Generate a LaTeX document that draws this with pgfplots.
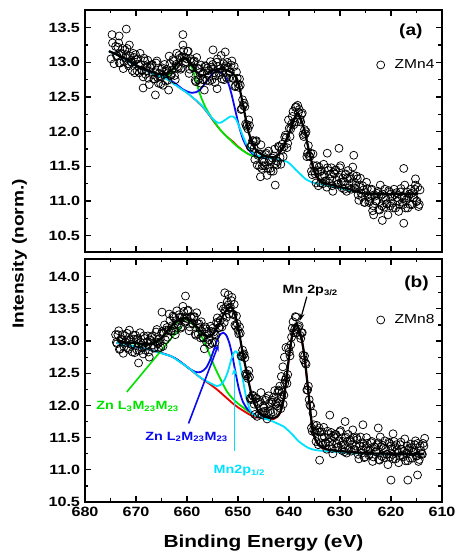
\documentclass[border=0pt]{standalone}
\usepackage{fontspec}
\setmainfont{Liberation Sans}[FakeStretch=1.2]
\usepackage{pgfplots}
\pgfplotsset{compat=1.18}
\usetikzlibrary{arrows.meta}
\definecolor{cgreen}{RGB}{0,225,0}
\definecolor{cblue}{RGB}{10,10,240}
\definecolor{ccyan}{RGB}{0,225,255}
\definecolor{cred}{RGB}{235,0,0}
\newcommand{\tickfont}{\bfseries\fontsize{13.5}{13.5}\selectfont}
\pgfplotsset{myax/.style={
  scale only axis, width=357bp,
  xmin=610, xmax=680, x dir=reverse,
  xtick={610,620,630,640,650,660,670,680},
  minor x tick num=1, minor y tick num=1,
  tick align=inside, xtick pos=both, ytick pos=both,
  major tick length=6bp, minor tick length=3.5bp,
  axis line style={line width=1.5bp},
  tick style={line width=1.2bp, black},
  tick label style={font=\tickfont},
  /pgf/number format/assume math mode=true,
  yticklabel style={/pgf/number format/fixed,/pgf/number format/fixed zerofill,/pgf/number format/precision=1, xshift=-1.5bp},
  xticklabel style={yshift=-2bp},
  legend style={draw=none, fill=none, font=\fontsize{13}{13}\selectfont, anchor=east, inner sep=0pt,
     /tikz/every odd column/.append style={column sep=8bp}},
  legend cell align=left,
  scat/.style={only marks, mark=o, mark size=4bp, mark options={line width=0.75bp}, black},
  fitl/.style={smooth, tension=0.5, no marks, line width=1.8bp},
}}
\begin{document}
\begin{tikzpicture}
\path[use as bounding box] (0,0) rectangle (459bp,554bp);
% ---------------- panel (a)
\begin{axis}[myax, at={(85bp,302bp)}, anchor=south west, height=242bp,
  ymin=10.265, ymax=13.755, ytick={10.5,11,11.5,12,12.5,13,13.5}, xticklabels={},
  legend style={at={(0.985,0.773)}}]
\addplot[scat] coordinates {
(674.9,13.05) (674.7,13.40) (674.6,13.28) (674.3,12.98) (674.0,13.23) (673.7,13.09) (673.4,13.28) (673.3,13.38) (673.1,12.99) (672.8,13.12) (672.5,12.91) (672.2,13.18) (671.9,13.11) (671.9,13.48) (671.6,12.98) (671.3,13.25) (671.0,13.01) (670.7,12.88) (670.4,13.07) (670.1,13.11) (669.8,12.88) (669.5,12.97) (669.2,13.13) (668.9,12.89) (668.6,12.79) (668.6,12.63) (668.3,13.02) (668.0,12.88) (667.7,13.03) (667.4,12.68) (667.1,12.92) (666.8,12.97) (666.5,12.76) (666.2,12.85) (666.2,12.53) (665.9,13.02) (665.6,12.70) (665.3,12.79) (665.0,12.90) (664.7,12.67) (664.4,12.97) (664.1,12.87) (663.8,12.74) (663.6,12.60) (663.5,13.09) (663.2,12.81) (662.9,12.89) (662.6,13.02) (662.3,12.75) (662.0,13.13) (661.7,12.92) (661.4,13.06) (661.1,12.92) (660.8,13.25) (660.8,13.40) (660.5,13.07) (660.2,13.01) (659.9,13.16) (659.6,12.84) (659.3,13.05) (659.0,12.94) (658.7,13.01) (658.4,12.74) (658.1,13.07) (657.8,12.75) (657.5,12.85) (657.2,12.96) (656.9,12.75) (656.6,12.60) (656.3,12.94) (656.0,12.92) (655.7,12.80) (655.4,13.01) (655.1,12.75) (654.9,13.18) (654.8,12.90) (654.5,12.71) (654.2,13.00) (654.1,12.62) (653.9,12.94) (653.6,12.82) (653.3,13.10) (653.0,12.88) (652.7,12.75) (652.5,13.15) (652.4,12.95) (652.1,13.00) (651.8,12.77) (651.5,12.86) (651.2,13.02) (650.9,12.77) (650.6,12.65) (650.3,12.86) (650.0,12.69) (649.7,12.76) (649.4,12.32) (649.1,12.46) (648.8,12.41) (648.5,12.11) (648.2,12.10) (647.9,12.17) (647.6,11.78) (647.3,11.81) (647.0,11.87) (646.7,11.60) (646.4,11.87) (646.1,11.66) (645.8,11.50) (645.6,11.35) (645.5,11.81) (645.2,11.51) (644.9,11.56) (644.6,11.67) (644.3,11.37) (644.0,11.72) (643.7,11.47) (643.4,11.59) (643.1,11.43) (642.8,11.75) (642.7,11.23) (642.5,11.58) (642.2,11.57) (641.9,11.78) (641.6,11.53) (641.3,11.82) (641.0,11.78) (640.7,11.95) (640.4,11.77) (640.1,12.17) (639.8,11.93) (639.5,12.11) (639.2,12.29) (638.9,12.14) (638.6,12.36) (638.3,12.38) (638.0,12.32) (637.7,12.14) (637.4,12.27) (637.1,11.93) (636.8,11.97) (636.5,11.64) (636.2,11.80) (635.9,11.64) (635.6,11.43) (635.3,11.68) (635.0,11.43) (634.7,11.26) (634.4,11.44) (634.1,11.49) (633.8,11.26) (633.5,11.36) (633.2,11.53) (632.9,11.29) (632.6,11.20) (632.5,11.69) (632.3,11.44) (632.0,11.32) (631.7,11.48) (631.4,11.14) (631.1,11.39) (630.8,11.45) (630.5,11.24) (630.2,11.34) (630.2,11.76) (629.9,11.51) (629.6,11.19) (629.3,11.28) (629.0,11.38) (628.7,11.14) (628.4,11.44) (628.1,11.32) (627.8,11.17) (627.5,11.49) (627.3,11.66) (627.2,11.19) (626.9,11.23) (626.6,11.32) (626.3,11.01) (626.0,11.33) (625.7,11.06) (625.4,11.16) (625.1,10.98) (624.8,11.27) (624.5,11.06) (624.2,11.00) (623.9,11.16) (623.6,10.86) (623.4,10.80) (623.3,11.09) (623.0,11.00) (622.7,11.11) (622.4,10.88) (622.1,11.23) (621.8,10.93) (621.7,10.72) (621.5,11.05) (621.2,11.17) (620.9,10.96) (620.6,10.80) (620.3,11.13) (620.0,11.10) (619.7,10.97) (619.4,11.17) (619.1,10.90) (618.8,11.05) (618.5,10.85) (618.2,11.13) (617.9,11.07) (617.6,10.95) (617.5,10.68) (617.5,11.47) (617.3,11.23) (617.0,11.02) (616.7,10.90) (616.4,11.10) (616.1,11.17) (615.8,10.95) (615.5,11.05) (615.2,11.23) (615.2,11.32) (614.9,11.00) (614.6,10.92) (614.3,11.16)
(673.85,13.10) (673.55,13.22) (673.25,12.99) (672.95,13.13) (672.65,13.20) (672.35,13.01) (672.05,13.07) (671.75,13.20) (671.45,12.95) (671.15,13.09) (670.85,13.00) (670.55,13.13) (670.25,12.85) (669.95,13.04) (669.65,13.05) (669.35,12.85) (669.05,12.97) (668.75,12.88) (668.45,13.06) (668.15,12.83) (667.85,12.94) (667.55,12.77) (667.25,12.94) (666.95,12.96) (666.65,12.82) (666.35,12.76) (666.05,12.99) (665.75,12.78) (665.45,12.84) (665.15,12.69) (664.85,12.92) (664.55,12.86) (664.25,12.73) (663.95,12.90) (663.65,12.85) (663.35,12.98) (663.05,12.82) (662.75,13.04) (662.45,12.81) (662.15,12.97) (661.85,12.94) (661.55,13.10) (661.25,12.90) (660.95,13.08) (660.65,13.17) (660.35,12.99) (660.05,13.05) (659.75,13.16) (659.45,12.90) (659.15,13.02) (658.85,12.92) (658.55,13.02) (658.25,12.72) (657.95,12.91) (657.65,12.91) (657.35,12.70) (657.05,12.83) (656.75,12.75) (656.45,12.95) (656.15,12.74) (655.85,12.88) (655.55,12.73) (655.25,12.93) (654.95,12.97) (654.65,12.85) (654.35,12.81) (654.05,13.05) (653.75,12.85) (653.45,12.91) (653.15,12.76) (652.85,12.98) (652.55,12.92) (652.25,12.78) (651.95,12.93) (651.65,12.85) (651.35,12.96) (651.05,12.77) (650.75,12.94) (650.45,12.66) (650.15,12.77) (649.85,12.64) (649.55,12.67) (649.25,12.33) (648.95,12.38) (648.65,12.36) (648.35,12.08) (648.05,12.04) (647.75,12.09) (647.45,11.78) (647.15,11.87) (646.85,11.76) (646.55,11.86) (646.25,11.52) (645.95,11.68) (645.65,11.68) (645.35,11.47) (645.05,11.59) (644.75,11.51) (644.45,11.69) (644.15,11.47) (643.85,11.59) (643.55,11.43) (643.25,11.62) (642.95,11.65) (642.65,11.54) (642.35,11.52) (642.05,11.79) (641.75,11.63) (641.45,11.74) (641.15,11.64) (640.85,11.92) (640.55,11.91) (640.25,11.83) (639.95,12.05) (639.65,12.04) (639.35,12.22) (639.05,12.10) (638.75,12.35) (638.45,12.14) (638.15,12.28) (637.85,12.18) (637.55,12.25) (637.25,11.96) (636.95,12.03) (636.65,12.00) (636.35,11.69) (636.05,11.65) (635.75,11.69) (635.45,11.38) (635.15,11.51) (634.85,11.39) (634.55,11.51) (634.25,11.22) (633.95,11.42) (633.65,11.44) (633.35,11.25) (633.05,11.37) (632.75,11.29) (632.45,11.48) (632.15,11.26) (631.85,11.39) (631.55,11.22) (631.25,11.41) (630.95,11.44) (630.65,11.30) (630.35,11.25) (630.05,11.48) (629.75,11.27) (629.45,11.33) (629.15,11.17) (628.85,11.39) (628.55,11.33) (628.25,11.19) (627.95,11.34) (627.65,11.26) (627.35,11.37) (627.05,11.18) (626.75,11.36) (626.45,11.09) (626.15,11.20) (625.85,11.11) (625.55,11.22) (625.25,10.98) (624.95,11.12) (624.65,11.18) (624.35,10.98) (624.05,11.04) (623.75,11.17) (623.45,10.93) (623.15,11.07) (622.85,11.00) (622.55,11.14) (622.25,10.87) (621.95,11.08) (621.65,11.10) (621.35,10.91) (621.05,11.04) (620.75,10.96) (620.45,11.15) (620.15,10.93) (619.85,11.06) (619.55,10.90) (619.25,11.09) (618.95,11.12) (618.65,11.00) (618.35,10.95) (618.05,11.18) (617.75,10.98) (617.45,11.04) (617.15,10.90) (616.85,11.13) (616.55,11.07) (616.25,10.95) (615.95,11.11) (615.65,11.04) (615.35,11.17) (615.05,10.99) (614.75,11.20) (614.45,10.95)
};
\addlegendentry{ZMn4}
\addplot[fitl, cred, line width=1.4bp] coordinates {
(675.3,13.16) (674,13.12) (672,13.04) (670,12.95) (668,12.88) (666,12.82) (665,12.79) (664,12.76) (663,12.71) (662,12.66) (661,12.61) (660,12.56) (659,12.50) (658,12.43) (657,12.36) (656,12.27) (655,12.17) (654,12.07) (653,11.99) (652,11.92) (651,11.86) (650,11.79) (649,11.73) (648,11.68) (647,11.65) (646,11.63) (645,11.62) (644,11.62) (643,11.62) (642,11.67) (641,11.79) (640,11.98) (639,12.18) (638.4,12.27) (637.8,12.20) (637,12.03) (636,11.69) (635,11.41) (634,11.29) (633,11.25) (632,11.23) (631,11.20) (628.6,11.16) (626,11.12) (624,11.10) (620,11.10) (614.7,11.10)
};
\addplot[fitl, cgreen] coordinates {
(675.3,13.16) (674,13.12) (672,13.04) (670,12.95) (668,12.88) (666,12.82) (665,12.80) (664,12.80) (663.3,12.84) (662.5,12.92) (661.5,13.02) (660.6,13.06) (659.8,13.02) (659,12.92) (658.3,12.75) (657.5,12.55) (656.5,12.37) (655.5,12.24) (654.5,12.13) (653.5,12.03) (652.5,11.95) (651.5,11.88) (650.5,11.81) (649.5,11.75) (648.5,11.70) (647.5,11.66) (646.5,11.64) (645,11.62) (644,11.62)
};
\addplot[fitl, cblue] coordinates {
(675.3,13.16) (674,13.12) (672,13.04) (670,12.95) (668,12.88) (666,12.82) (665,12.80) (664,12.77) (663,12.73) (662,12.68) (661,12.62) (660,12.58) (659,12.56) (658.2,12.57) (657.4,12.61) (656.5,12.69) (655.5,12.79) (654.6,12.86) (654,12.87) (653.3,12.85) (652.5,12.79) (651.8,12.68) (651.2,12.52) (650.5,12.30) (649.8,12.08) (649,11.89) (648.2,11.77) (647.3,11.69) (646.3,11.65) (645,11.62) (644,11.61)
};
\addplot[fitl, ccyan] coordinates {
(675.3,13.16) (674,13.12) (672,13.04) (670,12.95) (668,12.88) (666,12.82) (665,12.79) (664,12.76) (663,12.71) (662,12.66) (661,12.61) (660,12.56) (659,12.50) (658,12.44) (657,12.37) (656,12.28) (655,12.19) (654,12.13) (653.4,12.13) (652.5,12.17) (651.5,12.22) (651,12.22) (650.4,12.18) (649.8,12.08) (649,11.93) (648.2,11.80) (647,11.69) (646,11.65) (645,11.63) (643,11.61) (641.7,11.59) (640.5,11.57) (639.7,11.53) (638.8,11.46) (637.8,11.39) (636.8,11.32) (635.8,11.28) (634.5,11.25) (633,11.23) (631,11.20) (628.6,11.16) (626,11.12) (624,11.10) (620,11.10) (614.7,11.10)
};
\addplot[fitl, black, line width=2.2bp] coordinates {
(675.3,13.16) (674,13.12) (672,13.05) (670,12.96) (668,12.89) (666,12.84) (665,12.83) (664,12.84) (663,12.89) (662,12.97) (661,13.05) (660.5,13.07) (660,13.05) (659,12.96) (658,12.85) (657,12.81) (656,12.84) (655,12.88) (654,12.90) (653,12.90) (652,12.88) (651,12.84) (650.3,12.77) (649.7,12.63) (649,12.38) (648,12.02) (647,11.80) (646,11.70) (645,11.66) (644,11.64) (643,11.63) (642,11.68) (641,11.80) (640,11.98) (639,12.18) (638.4,12.27) (637.8,12.20) (637,12.03) (636,11.70) (635,11.42) (634,11.30) (633,11.26) (632,11.24) (630,11.20) (628,11.17) (626,11.12) (624,11.10) (620,11.10) (614.7,11.10)
};
\node[font=\bfseries\fontsize{16}{16}\selectfont] at (axis cs:616.1,13.45) {(a)};
\end{axis}
% ---------------- panel (b)
\begin{axis}[myax, at={(85bp,52bp)}, anchor=south west, height=243bp,
  ymin=10.5, ymax=14.275, ytick={10.5,11,11.5,12,12.5,13,13.5,14},
  legend style={at={(0.985,0.749)}}]
\addplot[scat] coordinates {
(674.0,13.10) (673.7,12.96) (673.4,13.16) (673.1,12.88) (672.8,13.02) (672.5,12.81) (672.2,13.08) (671.9,13.02) (671.6,12.90) (671.3,13.17) (671.0,12.95) (670.7,12.83) (670.4,13.03) (670.1,13.09) (669.8,12.86) (669.5,12.96) (669.5,12.66) (669.2,13.13) (668.9,12.90) (668.6,12.80) (668.3,13.04) (668.0,12.92) (667.7,13.08) (667.4,12.75) (667.1,13.01) (666.8,13.08) (666.5,12.89) (666.2,12.99) (665.9,13.18) (665.6,12.89) (665.3,12.99) (665.0,13.12) (664.9,13.45) (664.7,12.92) (664.4,13.25) (664.1,13.17) (663.8,13.06) (663.5,13.42) (663.2,13.15) (662.9,13.24) (662.6,13.37) (662.3,13.10) (662.0,13.47) (661.7,13.24) (661.4,13.37) (661.1,13.22) (660.8,13.54) (660.5,13.36) (660.3,13.70) (660.2,13.31) (659.9,13.47) (659.6,13.16) (659.3,13.38) (659.0,13.28) (658.7,13.37) (658.4,13.11) (658.1,13.44) (657.8,13.11) (657.5,13.21) (657.2,13.30) (656.9,13.06) (656.6,12.88) (656.3,13.19) (656.0,13.15) (655.7,13.02) (655.4,13.23) (655.1,12.97) (654.8,13.14) (654.5,12.98) (654.2,13.29) (653.9,13.28) (653.6,13.21) (653.3,13.54) (653.0,13.37) (652.7,13.29) (652.6,13.75) (652.4,13.52) (652.1,13.61) (651.9,13.72) (651.8,13.42) (651.5,13.53) (651.2,13.68) (650.9,13.41) (650.6,13.25) (650.3,13.39) (650.0,13.17) (649.7,13.22) (649.4,12.77) (649.1,12.86) (648.8,12.80) (648.5,12.49) (648.2,12.49) (647.9,12.54) (647.6,12.11) (647.3,12.11) (647.0,12.14) (646.7,11.86) (646.4,12.11) (646.1,12.03) (645.8,11.87) (645.5,12.20) (645.2,11.90) (644.9,11.96) (644.6,12.08) (644.3,11.79) (644.0,12.15) (643.7,11.92) (643.4,12.05) (643.1,11.90) (642.8,12.23) (642.5,12.06) (642.2,12.03) (642.2,12.20) (641.9,12.22) (641.8,12.30) (641.6,11.95) (641.5,12.45) (641.3,12.21) (641.2,12.60) (641.0,12.16) (640.9,12.75) (640.7,12.40) (640.6,12.90) (640.4,12.34) (640.1,12.89) (639.8,12.77) (639.5,13.06) (639.2,13.30) (638.9,13.18) (638.6,13.37) (638.3,13.19) (638.0,13.24) (637.7,13.04) (637.4,13.13) (637.1,12.71) (636.8,12.66) (636.5,12.24) (636.2,12.30) (635.9,12.01) (635.6,11.65) (635.3,11.88) (635.0,11.60) (634.7,11.44) (634.4,11.61) (634.1,11.65) (634.0,11.15) (633.8,11.42) (633.5,11.50) (633.2,11.66) (632.9,11.42) (632.6,11.32) (632.3,11.55) (632.0,11.43) (632.0,11.85) (631.7,11.58) (631.4,11.25) (631.1,11.50) (630.8,11.55) (630.5,11.35) (630.2,11.45) (629.9,11.61) (629.6,11.30) (629.3,11.39) (629.0,11.49) (629.0,11.75) (628.7,11.26) (628.4,11.55) (628.1,11.44) (627.8,11.29) (627.5,11.62) (627.2,11.32) (626.9,11.37) (626.6,11.47) (626.3,11.17) (626.0,11.51) (625.7,11.26) (625.5,11.70) (625.4,11.37) (625.1,11.20) (624.8,11.50) (624.5,11.30) (624.2,11.25) (623.9,11.42) (623.6,11.13) (623.3,11.36) (623.0,11.28) (622.7,11.39) (622.5,11.65) (622.4,11.16) (622.1,11.51) (621.8,11.21) (621.5,11.33) (621.2,11.45) (620.9,11.24) (620.6,11.08) (620.3,11.41) (620.0,11.37) (620.0,10.84) (619.7,11.24) (619.6,11.56) (619.4,11.44) (619.1,11.17) (618.8,11.31) (618.5,11.11) (618.2,11.39) (617.9,11.32) (617.6,11.20) (617.3,11.48) (617.0,11.26) (616.7,11.14) (616.7,10.84) (616.4,11.34) (616.1,11.40) (615.8,11.18) (615.5,11.28) (615.2,11.45) (614.9,11.22) (614.8,10.92) (614.6,11.13) (614.3,11.37) (614.0,11.25) (613.7,11.41) (613.4,11.49)
(673.85,12.98) (673.55,13.10) (673.25,12.87) (672.95,13.03) (672.65,13.10) (672.35,12.91) (672.05,12.98) (671.75,13.12) (671.45,12.87) (671.15,13.02) (670.85,12.95) (670.55,13.09) (670.25,12.82) (669.95,13.02) (669.65,13.04) (669.35,12.85) (669.05,12.98) (668.75,12.89) (668.45,13.08) (668.15,12.86) (667.85,12.99) (667.55,12.83) (667.25,13.02) (666.95,13.06) (666.65,12.94) (666.35,12.90) (666.05,13.14) (665.75,12.96) (665.45,13.03) (665.15,12.90) (664.85,13.15) (664.55,13.12) (664.25,13.02) (663.95,13.21) (663.65,13.17) (663.35,13.32) (663.05,13.16) (662.75,13.39) (662.45,13.16) (662.15,13.32) (661.85,13.27) (661.55,13.41) (661.25,13.20) (660.95,13.37) (660.65,13.46) (660.35,13.29) (660.05,13.35) (659.75,13.48) (659.45,13.22) (659.15,13.36) (658.85,13.27) (658.55,13.38) (658.25,13.09) (657.95,13.27) (657.65,13.27) (657.35,13.05) (657.05,13.15) (656.75,13.05) (656.45,13.22) (656.15,12.98) (655.85,13.11) (655.55,12.95) (655.25,13.15) (654.95,13.20) (654.65,13.11) (654.35,13.09) (654.05,13.36) (653.75,13.21) (653.45,13.32) (653.15,13.22) (652.85,13.50) (652.55,13.47) (652.25,13.37) (651.95,13.56) (651.65,13.51) (651.35,13.63) (651.05,13.42) (650.75,13.57) (650.45,13.23) (650.15,13.27) (649.85,13.11) (649.55,13.12) (649.25,12.76) (648.95,12.78) (648.65,12.74) (648.35,12.46) (648.05,12.42) (647.75,12.44) (647.45,12.09) (647.15,12.16) (646.85,12.02) (646.55,12.11) (646.25,11.83) (645.95,12.05) (645.65,12.06) (645.35,11.86) (645.05,11.99) (644.75,11.91) (644.45,12.11) (644.15,11.89) (643.85,12.03) (643.55,11.88) (643.25,12.08) (642.95,12.13) (642.65,12.02) (642.35,11.99) (642.05,12.24) (641.75,12.06) (641.45,12.14) (641.15,12.02) (640.85,12.34) (640.55,12.43) (640.25,12.48) (639.95,12.83) (639.65,12.94) (639.35,13.20) (639.05,13.13) (638.75,13.38) (638.45,13.13) (638.15,13.22) (637.85,13.09) (637.55,13.13) (637.25,12.78) (636.95,12.77) (636.65,12.64) (636.35,12.24) (636.05,12.09) (635.75,11.99) (635.45,11.60) (635.15,11.70) (634.85,11.58) (634.55,11.69) (634.25,11.39) (633.95,11.59) (633.65,11.59) (633.35,11.39) (633.05,11.51) (632.75,11.42) (632.45,11.60) (632.15,11.37) (631.85,11.50) (631.55,11.33) (631.25,11.52) (630.95,11.55) (630.65,11.41) (630.35,11.36) (630.05,11.59) (629.75,11.38) (629.45,11.44) (629.15,11.28) (628.85,11.51) (628.55,11.44) (628.25,11.31) (627.95,11.46) (627.65,11.39) (627.35,11.50) (627.05,11.31) (626.75,11.50) (626.45,11.24) (626.15,11.37) (625.85,11.30) (625.55,11.42) (625.25,11.19) (624.95,11.34) (624.65,11.41) (624.35,11.23) (624.05,11.30) (623.75,11.44) (623.45,11.20) (623.15,11.35) (622.85,11.28) (622.55,11.42) (622.25,11.15) (621.95,11.36) (621.65,11.38) (621.35,11.19) (621.05,11.32) (620.75,11.24) (620.45,11.43) (620.15,11.20) (619.85,11.33) (619.55,11.17) (619.25,11.36) (618.95,11.39) (618.65,11.26) (618.35,11.21) (618.05,11.43) (617.75,11.23) (617.45,11.29) (617.15,11.14) (616.85,11.37) (616.55,11.31) (616.25,11.18) (615.95,11.34) (615.65,11.27) (615.35,11.39) (615.05,11.21) (614.75,11.41) (614.45,11.16) (614.15,11.30) (613.85,11.24) (613.55,11.37)
};
\addlegendentry{ZMn8}
\addplot[fitl, cred] coordinates {
(673.8,12.97) (670,12.91) (667,12.86) (663,12.76) (660.5,12.63) (657.5,12.44) (655.5,12.33) (654,12.24) (653,12.17) (652,12.10) (651,12.03) (650,11.97) (649,11.92) (648,11.87) (647,11.83) (646,11.81) (645,11.80) (644,11.79) (643,11.79) (642.3,11.82) (641.7,11.89) (641.2,12.03) (640.6,12.34) (640,12.74) (639.4,13.07) (638.7,13.26) (638.1,13.19) (637.5,13.01) (637,12.77) (636.4,12.35) (635.8,11.89) (635.3,11.59) (634.7,11.44) (634,11.37) (633,11.32) (632,11.30) (630,11.28) (628,11.27) (625,11.25) (620,11.24) (613.5,11.24)
};
\addplot[fitl, cgreen] coordinates {
(673.8,13.01) (672,12.97) (670,12.96) (668,12.94) (667,12.95) (666,12.98) (665,13.04) (664,13.13) (663,13.22) (662,13.29) (661,13.33) (660.5,13.34) (659.8,13.32) (659,13.27) (658.1,13.20) (657.2,13.08) (656.3,12.93) (655.5,12.78) (654.7,12.62) (654,12.50) (653,12.34) (652.2,12.22) (651.2,12.12) (650,12.03) (649,11.97) (648,11.91) (647,11.86) (646,11.82) (645,11.80) (644,11.79)
};
\addplot[fitl, cblue] coordinates {
(673.8,12.97) (670,12.91) (667,12.86) (663,12.76) (661,12.66) (659.5,12.57) (658.3,12.52) (657.3,12.52) (656.3,12.58) (655.5,12.70) (654.7,12.87) (654,13.03) (653.4,13.11) (652.9,13.13) (652.3,13.09) (651.7,12.97) (651.1,12.77) (650.5,12.52) (649.8,12.25) (649,12.05) (648,11.93) (647,11.87) (646,11.82) (645,11.80) (644,11.79)
};
\addplot[fitl, ccyan] coordinates {
(673.8,12.97) (672,12.94) (670,12.91) (668,12.88) (667,12.86) (665,12.81) (663,12.76) (661.5,12.68) (660.5,12.63) (659,12.54) (657.5,12.44) (656,12.37) (655,12.33) (654.1,12.30) (653.4,12.32) (652.7,12.39) (652,12.52) (651.3,12.72) (650.8,12.82) (650.4,12.84) (650,12.79) (649.5,12.60) (649,12.38) (648.4,12.13) (647.7,11.94) (647,11.86) (646,11.82) (645,11.80) (643.7,11.77) (642.3,11.72) (641,11.67) (640,11.60) (639,11.52) (638.2,11.45) (637.2,11.39) (636.2,11.34) (635,11.31) (633,11.29) (631,11.28) (628,11.26) (622,11.24) (613.5,11.24)
};
\addplot[fitl, black, line width=2.2bp] coordinates {
(673.8,13.02) (672,12.98) (670,12.97) (668,12.95) (667,12.96) (666,12.99) (665,13.05) (664,13.15) (663,13.24) (662,13.31) (661,13.35) (660.4,13.36) (659.5,13.33) (658.5,13.26) (657.5,13.17) (656.5,13.09) (655.7,13.07) (655,13.10) (654,13.22) (653,13.39) (652.2,13.49) (651.6,13.53) (651,13.49) (650.4,13.36) (649.8,13.14) (649,12.78) (648.2,12.48) (647.5,12.22) (646.8,12.03) (646,11.91) (645,11.84) (644,11.81) (643,11.80) (642.3,11.83) (641.7,11.90) (641.2,12.04) (640.6,12.35) (640,12.75) (639.4,13.08) (638.7,13.27) (638.1,13.20) (637.5,13.02) (637,12.78) (636.4,12.36) (635.8,11.90) (635.3,11.60) (634.7,11.45) (634,11.38) (633,11.33) (632,11.31) (630,11.29) (628,11.28) (625,11.26) (620,11.25) (613.5,11.25)
};
\draw[cgreen, line width=1.6bp, -{Stealth[length=7bp,width=5.5bp]}] (axis cs:671.8,12.21) -- (axis cs:661,13.24);
\draw[cblue, line width=1.6bp, -{Stealth[length=7bp,width=5.5bp]}] (axis cs:659.7,11.72) -- (axis cs:653.8,12.95);
\draw[ccyan, line width=1.6bp, -{Stealth[length=7bp,width=5.5bp]}] (axis cs:650.7,11.30) -- (axis cs:650.7,12.58);
\draw[black, line width=1.2bp, -{Stealth[length=7bp,width=5bp]}] (axis cs:636.5,13.69) -- (axis cs:637.8,13.32);
\node[anchor=base west, inner sep=0pt, text=cgreen, font=\bfseries\fontsize{12}{12}\selectfont] at (axis cs:677.8,11.94) {Zn L\textsubscript{3}M\textsubscript{23}M\textsubscript{23}};
\node[anchor=base west, inner sep=0pt, text=cblue, font=\bfseries\fontsize{12}{12}\selectfont] at (axis cs:668.2,11.46) {Zn L\textsubscript{2}M\textsubscript{23}M\textsubscript{23}};
\node[anchor=base west, inner sep=0pt, text=ccyan, font=\bfseries\fontsize{12}{12}\selectfont] at (axis cs:654.8,10.94) {Mn2p\textsubscript{1/2}};
\node[anchor=base west, inner sep=0pt, text=black, font=\bfseries\fontsize{12}{12}\selectfont] at (axis cs:641.3,13.74) {Mn 2p\textsubscript{3/2}};
\node[font=\bfseries\fontsize{16}{16}\selectfont] at (axis cs:615,13.89) {(b)};
\end{axis}
\node[rotate=90, font=\bfseries\fontsize{16}{16}\selectfont] at (19.5bp,300bp) {Intensity (norm.)};
\node[anchor=base, font=\bfseries\fontsize{17.5}{17.5}\selectfont] at (263.5bp,6.3bp) {Binding Energy (eV)};
\end{tikzpicture}
\end{document}
